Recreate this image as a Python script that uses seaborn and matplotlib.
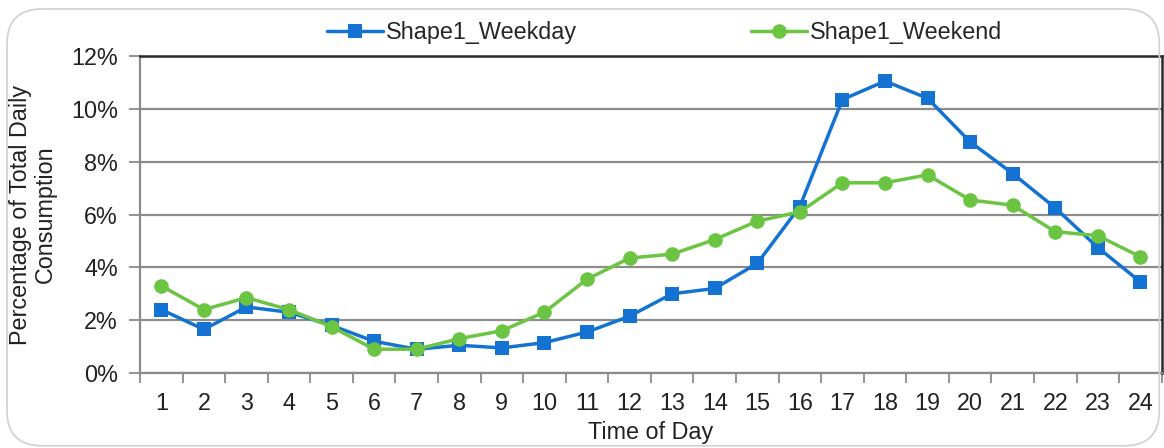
import numpy as np
import pandas as pd
import matplotlib
matplotlib.use("Agg")
import matplotlib.pyplot as plt
from matplotlib.patches import FancyBboxPatch
from matplotlib.ticker import FuncFormatter
import seaborn as sns

hours = list(range(1, 25))
weekday = [2.4, 1.65, 2.5, 2.3, 1.8, 1.2, 0.9, 1.05, 0.95, 1.15, 1.55, 2.15,
           3.0, 3.2, 4.15, 6.3, 10.35, 11.05, 10.4, 8.75, 7.55, 6.25, 4.75, 3.45]
weekend = [3.3, 2.4, 2.85, 2.4, 1.75, 0.9, 0.9, 1.3, 1.6, 2.3, 3.55, 4.35,
           4.5, 5.05, 5.75, 6.1, 7.2, 7.2, 7.5, 6.55, 6.35, 5.35, 5.2, 4.4]
series_names = ["Shape1_Weekday", "Shape1_Weekend"]

df = pd.DataFrame({
    "hour": hours * 2,
    "pct": weekday + weekend,
    "series": [series_names[0]] * 24 + [series_names[1]] * 24,
})

sns.set_theme(style="white")
plt.rcParams["font.family"] = ["Liberation Sans", "DejaVu Sans"]
FS = 16.8
TXT = "#222222"

fig = plt.figure(figsize=(11.64, 4.48), dpi=100)
ax = fig.add_axes([0.1203, 0.1674, 0.8777, 0.7076])

palette = {series_names[0]: "#1473D2", series_names[1]: "#6BC542"}
markers = {series_names[0]: "s", series_names[1]: "o"}
sns.lineplot(data=df, x="hour", y="pct", hue="series", style="series",
             palette=palette, markers=markers, dashes=False, linewidth=2.5,
             markersize=10.5, markeredgewidth=0, ax=ax, legend=True)

ax.set_xlim(0.5, 24.5)
ax.set_ylim(0, 12)
ax.set_yticks(np.arange(0, 13, 2))
ax.yaxis.set_major_formatter(FuncFormatter(lambda v, p: f"{v:.0f}%"))
ax.set_xticks(hours)
ax.set_xticks(np.arange(0.5, 25, 1), minor=True)
ax.tick_params(axis="x", which="major", length=0, pad=14, labelsize=FS,
               labelcolor=TXT)
ax.tick_params(axis="x", which="minor", length=7, width=1.3, color="#8a8a8a",
               bottom=True)
ax.tick_params(axis="y", which="major", length=8, width=1.3, color="#8a8a8a",
               left=True, pad=8, labelsize=FS, labelcolor=TXT)

ax.grid(axis="y", color="#8c8c8c", linewidth=1.6)
ax.set_axisbelow(True)
for side in ["left", "bottom"]:
    ax.spines[side].set_color("#8a8a8a")
    ax.spines[side].set_linewidth(1.6)
for side in ["top", "right"]:
    ax.spines[side].set_color("#2a2a2a")
    ax.spines[side].set_linewidth(1.8)

ax.set_xlabel("Time of Day", fontsize=FS, color=TXT, labelpad=4)
ax.set_ylabel("Percentage of Total Daily\nConsumption", fontsize=FS,
              color=TXT, labelpad=10, linespacing=1.12)

handles, labels = ax.get_legend_handles_labels()
ax.get_legend().remove()
fig.legend(handles, labels, loc="center", bbox_to_anchor=(0.571, 0.927),
           ncol=2, frameon=False, fontsize=FS, columnspacing=7.45,
           handlelength=2.4, handletextpad=0.12)

border = FancyBboxPatch((0.006, 0.005), 0.99, 0.975,
                        boxstyle="round,pad=0,rounding_size=0.03",
                        transform=fig.transFigure, fill=False,
                        edgecolor="#d0d0d0", linewidth=1.2,
                        mutation_aspect=1164 / 448)
fig.patches.append(border)

fig.savefig("out.png", dpi=100)
